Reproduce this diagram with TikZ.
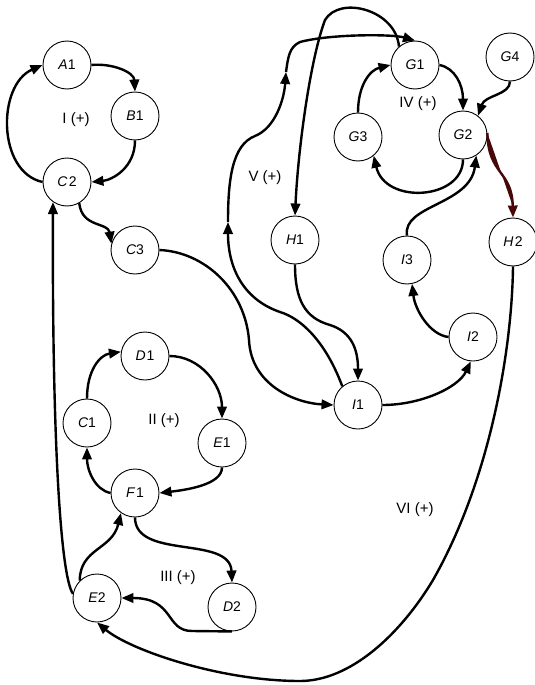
\documentclass[tikz,border=0pt]{standalone}
\usepackage{fontspec}
\setmainfont{Liberation Sans}
\usetikzlibrary{arrows.meta}
\begin{document}
\begin{tikzpicture}[x=1pt,y=1pt,
  st/.style={circle,draw,line width=0.9pt,minimum size=48pt,inner sep=0pt,font=\fontsize{14}{16}\selectfont},
  lbl/.style={font=\fontsize{15}{17}\selectfont},
  conn/.style={line width=2.4pt,-{Triangle[length=12pt,width=9.5pt]}},
  plain/.style={line width=2.4pt}]
\useasboundingbox (0,0) rectangle (535,-685);
% nodes
\node[st] (A1) at (67,-65) {\textit{A}1};
\node[st] (B1) at (135,-116) {\textit{B}1};
\node[st] (C2) at (67,-182) {\textit{C}\kern1.5pt2};
\node[st] (C3) at (135,-250) {\textit{C}3};
\node[st] (G1) at (415,-65) {\textit{G}1};
\node[st] (G4) at (510,-57) {\textit{G}4};
\node[st] (G2) at (463,-135) {\textit{G}2};
\node[st] (G3) at (358,-137) {\textit{G}3};
\node[st] (H1) at (295,-240) {\textit{H}1};
\node[st] (I3) at (407,-260) {\textit{I}3};
\node[st] (H2) at (513,-242) {\textit{H}\kern1.5pt2};
\node[st] (I1) at (358,-405) {\textit{I}1};
\node[st] (I2) at (473,-337) {\textit{I}2};
\node[st] (D1) at (145,-356) {\textit{D}\kern1pt1};
\node[st] (C1) at (87,-423) {\textit{C}1};
\node[st] (E1) at (222,-443) {\textit{E}1};
\node[st] (F1) at (135,-493) {\textit{F}\kern1pt1};
\node[st] (E2) at (97,-598) {\textit{E}2};
\node[st] (D2) at (232,-607) {\textit{D}2};
% labels
\node[lbl] (L1) at (76,-120) {I (+)};
\node[lbl] (L2) at (164,-421) {II (+)};
\node[lbl] (L3) at (178,-578) {III (+)};
\node[lbl] (L4) at (418,-104) {IV (+)};
\node[lbl] (L5) at (265,-178) {V (+)};
\node[lbl] (L6) at (415,-510) {VI (+)};
\coordinate (v1) at (228,-222);
\coordinate (v2) at (286,-72);
% loop I
\draw[conn] (A1.east) .. controls (112,-63) and (134,-72) .. (B1.north);
\draw[conn] (B1.south) .. controls (135,-168) and (112,-180) .. (C2.east);
\draw[conn] (C2.west) .. controls (-3,-172) and (-3,-85) .. (A1.west);
\draw[conn] (C2.-60) .. controls (82,-228) and (108,-222) .. (C3.165);
\draw[conn] (E2.170) .. controls (60,-575) and (52,-430) .. (C2.235);
% C3 -> I1
\draw[conn] (C3.east) .. controls (205,-252) and (245,-290) .. (249,-340)
   .. controls (251,-385) and (295,-403) .. (I1.west);
% V loop
\draw[conn] (I1.130) .. controls (325,-340) and (300,-318) .. (280,-312)
   .. controls (245,-300) and (228,-270) .. (v1);
\draw[conn] (v1) .. controls (228,-180) and (232,-145) .. (255,-136)
   .. controls (275,-128) and (284,-100) .. (v2);
\draw[conn] (v2) .. controls (288,-58) and (289,-47) .. (300,-42)
   .. controls (330,-34) and (392,-34) .. (G1.north);
\draw[conn] (G1.131) .. controls (396,-10) and (340,5) .. (325,-20)
   .. controls (310,-60) and (298,-150) .. (H1.north);
\draw[conn] (H1.south) .. controls (295,-300) and (305,-318) .. (330,-325)
   .. controls (352,-332) and (358,-350) .. (I1.north);
% I loop
\draw[conn] (I1.east) .. controls (420,-405) and (458,-388) .. (I2.265);
\draw[conn] (I2.west) .. controls (430,-335) and (415,-310) .. (I3.-78);
\draw[conn] (I3.north) .. controls (402,-205) and (470,-205) .. (G2.-57);
% loop IV
\draw[conn] (G2.south) .. controls (463,-200) and (385,-205) .. (G3.-50);
\draw[conn] (G3.north) .. controls (358,-85) and (370,-70) .. (G1.west);
\draw[conn] (G1.east) .. controls (455,-68) and (463,-85) .. (G2.north);
\draw[conn] (G4.south) .. controls (510,-95) and (485,-95) .. (G2.52);
\draw[conn,draw={rgb,255:red,70;green,8;blue,8},fill={rgb,255:red,70;green,8;blue,8}] (G2.5) .. controls (488,-175) and (512,-170) .. (H2.north);
% VI
\draw[conn] (H2.south) .. controls (512,-350) and (490,-480) .. (433,-580)
   .. controls (400,-635) and (350,-681) .. (300,-681)
   .. controls (220,-681) and (130,-650) .. (E2.south);
% loop II
\draw[conn] (D1.east) .. controls (200,-356) and (222,-385) .. (E1.north);
\draw[conn] (E1.south) .. controls (222,-485) and (185,-490) .. (F1.east);
\draw[conn] (F1.west) .. controls (95,-490) and (87,-470) .. (C1.south);
\draw[conn] (C1.north) .. controls (87,-370) and (100,-355) .. (D1.170);
% loop III
\draw[conn] (F1.south) .. controls (135,-560) and (230,-535) .. (D2.north);
\draw[conn] (D2.south) -- (192,-631) .. controls (165,-631) and (175,-598) .. (E2.east);
\draw[conn] (E2.135) .. controls (80,-548) and (112,-550) .. (F1.235);
\end{tikzpicture}
\end{document}
